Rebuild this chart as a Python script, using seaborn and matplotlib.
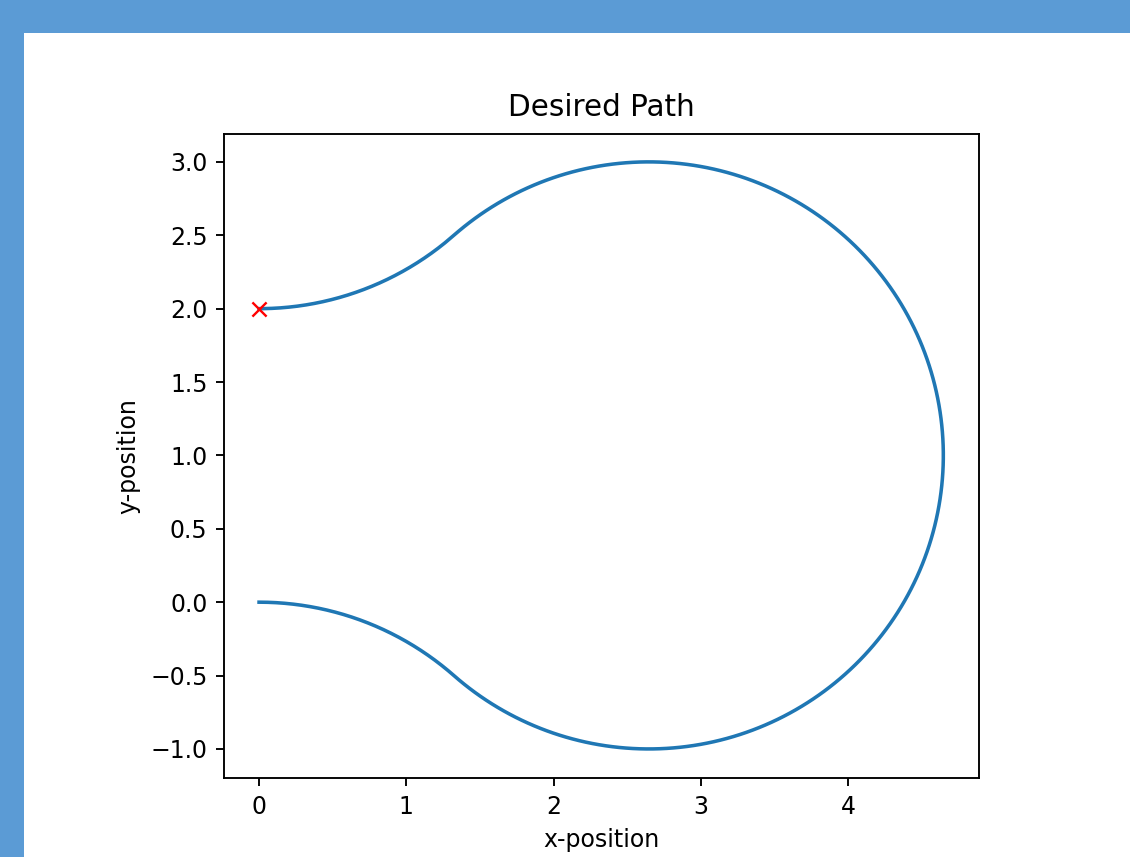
import numpy as np
import seaborn as sns
import matplotlib
matplotlib.use("Agg")
import matplotlib.pyplot as plt
from matplotlib.patches import Rectangle

# path made of three circular arcs: entry turn, big loop, exit turn
arc_center_x = [0.0, 2.6458, 0.0]
arc_center_y = [-2.0, 1.0, 4.0]
arc_radius = [2.0, 2.0, 2.0]
arc_start_deg = [90.0, 228.59, -48.59]
arc_end_deg = [48.59, 491.41, -90.0]

# red marker
marker_x = [0.0]
marker_y = [2.0]

title = "Desired Path"
x_label = "x-position"
y_label = "y-position"

# build the path points from the arcs
path_x, path_y = [], []
for cx, cy, r, a0, a1 in zip(arc_center_x, arc_center_y, arc_radius, arc_start_deg, arc_end_deg):
    t = np.radians(np.linspace(a0, a1, 200))
    path_x.extend(cx + r * np.cos(t))
    path_y.extend(cy + r * np.sin(t))

s = 1.7  # screenshot scale vs default matplotlib sizes

fig = plt.figure(figsize=(11.3, 8.57), dpi=100)
fig.patch.set_facecolor("#5b9bd5")
fig.add_artist(Rectangle((24 / 1130, 0), 1, (857 - 33) / 857,
                         transform=fig.transFigure, facecolor="white",
                         edgecolor="none", zorder=0))

ax = fig.add_axes([224 / 1130, 1 - 778 / 857, (979 - 224) / 1130, (778 - 134) / 857])

sns.lineplot(x=path_x, y=path_y, sort=False, estimator=None, ax=ax,
             color="#1f77b4", linewidth=1.5 * s)
sns.scatterplot(x=marker_x, y=marker_y, marker="x", color="red", s=(6 * s) ** 2,
                linewidth=1.0 * s, ax=ax, zorder=3)

ax.set_xlim(-0.238, 4.888)
ax.set_ylim(-1.198, 3.19)
ax.set_xticks([0, 1, 2, 3, 4])
ax.set_yticks(np.arange(-1.0, 3.01, 0.5))

ax.set_title(title, fontsize=12.5 * s, pad=7.5 * s)
ax.set_xlabel(x_label, fontsize=10 * s, labelpad=4 * s)
ax.set_ylabel(y_label, fontsize=10 * s, labelpad=4 * s)
ax.tick_params(labelsize=10 * s, length=3.5 * s, width=0.8 * s, pad=3.5 * s)
for sp in ax.spines.values():
    sp.set_linewidth(0.8 * s)

fig.savefig("out.png", dpi=100, facecolor=fig.get_facecolor())
